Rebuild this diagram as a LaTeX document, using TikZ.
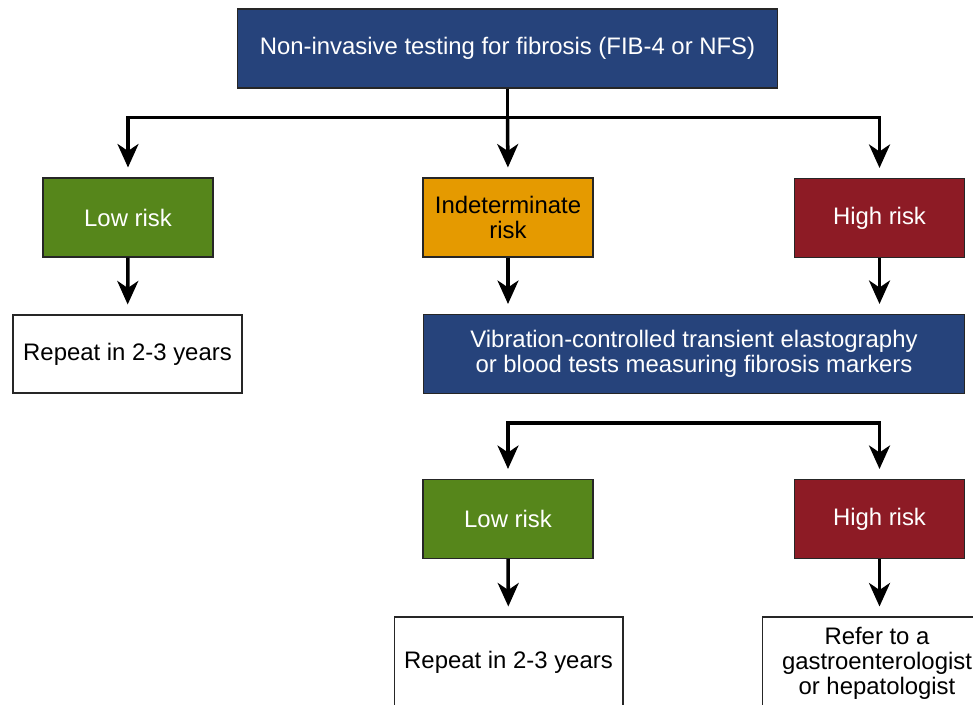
\documentclass[tikz,border=0pt]{standalone}
\usepackage{fontspec}
\setmainfont{Liberation Sans}
\usetikzlibrary{arrows.meta}
\definecolor{navy}{HTML}{26437B}
\definecolor{lowgreen}{HTML}{56861B}
\definecolor{midorange}{HTML}{E59A00}
\definecolor{highred}{HTML}{8D1B25}
\tikzset{
  box/.style={draw=black!85,line width=0.6pt,align=center,inner sep=0pt,
    font=\fontsize{13.6}{14.2}\selectfont},
  bluebox/.style={box,fill=navy,text=white,minimum width=10.82cm,minimum height=1.58cm},
  riskbox/.style={box,text=white,minimum width=3.4cm,minimum height=1.58cm},
  endbox/.style={box,fill=white,text=black,minimum width=4.58cm,minimum height=1.56cm},
  flow/.style={line width=2pt,shorten >=0.2cm,
    -{Stealth[length=0.47cm,width=0.42cm,inset=0.14cm]}},
  plain/.style={line width=2pt}
}
\begin{document}
\begin{tikzpicture}[x=0.02cm,y=-0.02cm]
			\useasboundingbox(0,0)rectangle(973,705);
			\node[bluebox](test)at(507.5,48.5){Non-invasive testing for fibrosis (FIB-4 or NFS)};
			\node[riskbox,fill=lowgreen](low)at(128,217.5){Low risk};
			\node[riskbox,fill=midorange,text=black](mid)at(508,217.5){Indeterminate\\risk};
			\node[riskbox,fill=highred](high)at(879.5,218){High risk};
			\node[endbox](repeat)at(127.5,354){Repeat in 2-3 years};
			\node[bluebox,minimum width=10.84cm](vcte)at(694,354){Vibration-controlled transient elastography\\or blood tests measuring fibrosis markers};
			\node[riskbox,fill=lowgreen](low2)at(508,519){Low risk};
			\node[riskbox,fill=highred](high2)at(879.5,519){High risk};
			\node[endbox,minimum height=1.8cm](repeat2)at(508.5,662){Repeat in 2-3 years};
			\node[endbox,minimum height=1.84cm](refer)at(877,663){Refer to a\\gastroenterologist\\or hepatologist};
			% first split
			\draw[plain](test.south)--++(0,29)coordinate(split);
			\draw[flow](split)-|(low.north);
			\draw[flow](split)--(mid.north);
			\draw[flow](split)-|(high.north);
			\draw[flow](low)--(repeat);
			\draw[flow](mid)--(mid|-vcte.north);
			\draw[flow](high)--(high|-vcte.north);
			% second split
			\coordinate(fork)at(694,423);
			\draw[flow](fork)-|(low2.north);
			\draw[flow](fork)-|(high2.north);
			\draw[flow](low2)--(repeat2);
			\draw[flow](high2)--(high2|-refer.north);
		\end{tikzpicture}
\end{document}
